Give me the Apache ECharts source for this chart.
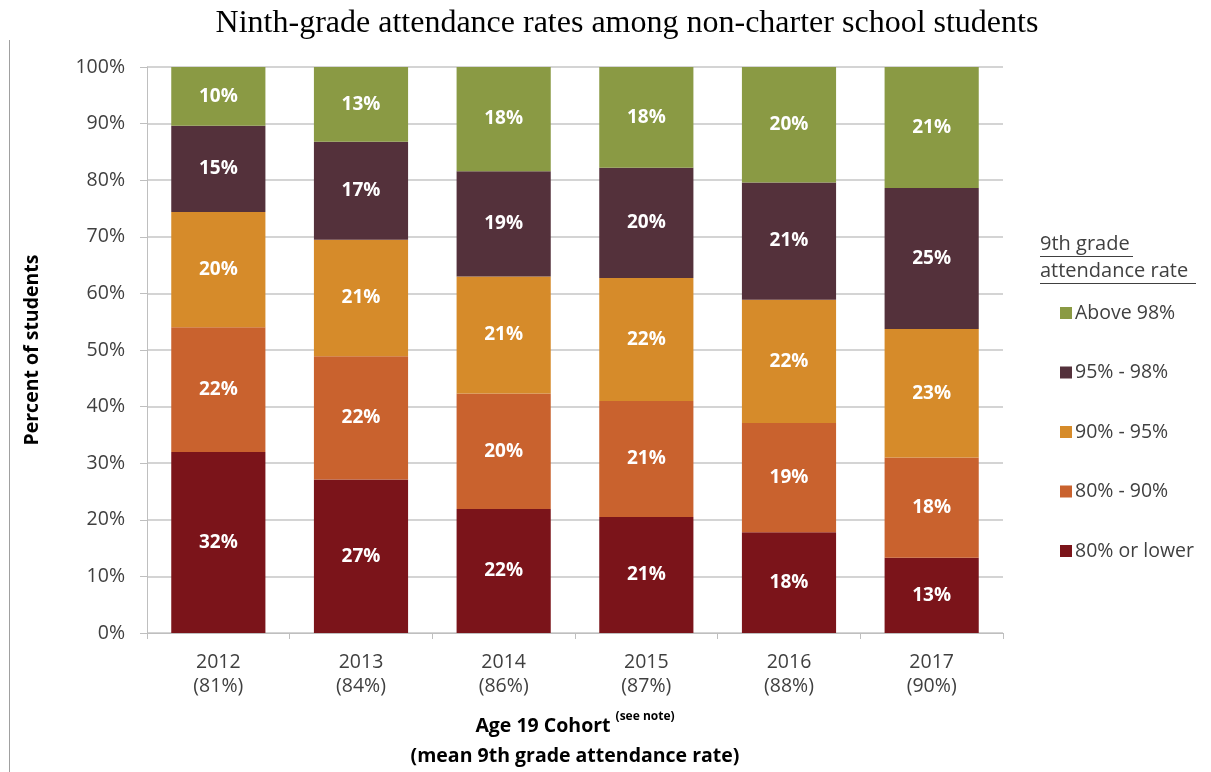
<!DOCTYPE html>
<html>
<head>
<meta charset="utf-8">
<script src="https://cdn.jsdelivr.net/npm/echarts@6/dist/echarts.min.js"></script>
<style>
  html, body { margin: 0; padding: 0; background: #fff; }
  #chart { width: 1211px; height: 772px; }
</style>
</head>
<body>
<div id="chart"></div>
<script>
// ---- Data ----
const cohorts = ['2012', '2013', '2014', '2015', '2016', '2017'];
const meanRates = ['81%', '84%', '86%', '87%', '88%', '90%'];
const seriesNames = ['80% or lower', '80% - 90%', '90% - 95%', '95% - 98%', 'Above 98%'];
const lower80   = [32.0, 27.1, 21.9, 20.5, 17.8, 13.3];
const r80to90   = [22.0, 21.8, 20.4, 20.5, 19.3, 17.7];
const r90to95   = [20.4, 20.6, 20.7, 21.7, 21.8, 22.7];
const r95to98   = [15.2, 17.3, 18.6, 19.5, 20.7, 24.9];
const above98   = [10.4, 13.2, 18.4, 17.8, 20.4, 21.4];
const yTicks = [0, 10, 20, 30, 40, 50, 60, 70, 80, 90, 100];

const colors = ['#7b141a', '#c9622e', '#d68b2a', '#54313b', '#8a9a44'];
const seriesData = [lower80, r80to90, r90to95, r95to98, above98];

const chart = echarts.init(document.getElementById('chart'), null, { renderer: 'canvas' });

const labelFont = "'Open Sans', 'Noto Sans', sans-serif";

const option = {
  backgroundColor: '#ffffff',
  animation: false,
  title: {
    text: 'Ninth-grade attendance rates among non-charter school students',
    left: 622,
    top: 3,
    textAlign: 'center',
    textStyle: {
      fontFamily: "'Liberation Serif', 'DejaVu Serif', serif",
      fontWeight: 'normal',
      fontSize: 32,
      color: '#000'
    }
  },
  grid: { left: 147, right: 208, top: 67, bottom: 139, containLabel: false },
  legend: {
    orient: 'vertical',
    left: 1060,
    top: 303,
    padding: 0,
    data: seriesNames.slice().reverse(),
    icon: 'rect',
    itemWidth: 12,
    itemHeight: 12,
    itemGap: 39.5,
    textStyle: { fontFamily: labelFont, fontSize: 19.5, color: '#404040', padding: [0, 0, 0, -2] }
  },
  xAxis: {
    type: 'category',
    data: cohorts.map((c, i) => c + '\n(' + meanRates[i] + ')'),
    axisLine: { show: true, lineStyle: { color: '#bfbfbf', width: 1 } },
    axisTick: { show: true, length: 6, lineStyle: { color: '#bfbfbf' } },
    axisLabel: {
      fontFamily: labelFont, fontSize: 19.5, color: '#404040',
      lineHeight: 24, margin: 17
    },
    name: '{a|Age 19 Cohort }{s|(see note)}\n{a|(mean 9th grade attendance rate)}',
    nameLocation: 'middle',
    nameGap: 78,
    nameTextStyle: {
      rich: {
        a: { fontFamily: labelFont, fontSize: 19.5, fontWeight: 'bold', color: '#000', lineHeight: 30 },
        s: { fontFamily: labelFont, fontSize: 12, fontWeight: 'bold', color: '#000', verticalAlign: 'top', lineHeight: 30, padding: [0, 0, 10, 0] }
      }
    }
  },
  yAxis: {
    type: 'value',
    min: 0,
    max: 100,
    interval: 10,
    axisLine: { show: true, lineStyle: { color: '#bfbfbf', width: 1 } },
    axisTick: { show: true, length: 7, lineStyle: { color: '#bfbfbf' } },
    splitLine: { show: true, lineStyle: { color: '#d4d4d4', width: 2 } },
    axisLabel: {
      fontFamily: labelFont, fontSize: 19.5, color: '#404040', margin: 22,
      formatter: v => (yTicks.includes(v) ? v + '%' : '')
    },
    name: 'Percent of students',
    nameLocation: 'middle',
    nameGap: 105,
    nameTextStyle: { fontFamily: labelFont, fontSize: 19.5, fontWeight: 'bold', color: '#000' }
  },
  series: seriesNames.map((name, i) => ({
    name: name,
    type: 'bar',
    stack: 'total',
    barCategoryGap: '34%',
    data: seriesData[i],
    itemStyle: { color: colors[i] },
    label: {
      show: true,
      position: 'inside',
      formatter: p => Math.round(p.value) + '%',
      fontFamily: labelFont,
      fontWeight: 'bold',
      fontSize: 19,
      color: '#ffffff'
    }
  })),
  graphic: [
    { type: 'line', shape: { x1: 9.5, y1: 40, x2: 9.5, y2: 772 }, style: { stroke: '#a0a0a0', lineWidth: 1 } },
    {
      type: 'text', left: 1040, top: 231,
      style: {
        text: '9th grade\nattendance rate',
        font: "20px 'Open Sans', sans-serif",
        fill: '#404040',
        lineHeight: 27
      }
    },
    { type: 'line', shape: { x1: 1040, y1: 256.5, x2: 1133, y2: 256.5 }, style: { stroke: '#404040', lineWidth: 1 } },
    { type: 'line', shape: { x1: 1040, y1: 283.5, x2: 1196, y2: 283.5 }, style: { stroke: '#404040', lineWidth: 1 } }
  ]
};

chart.setOption(option);
</script>
</body>
</html>
